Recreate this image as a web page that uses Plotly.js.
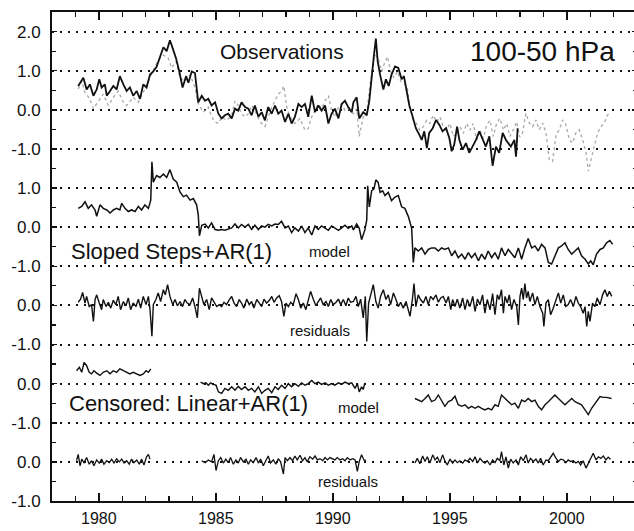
<!DOCTYPE html>
<html><head><meta charset="utf-8">
<script src="https://cdn.plot.ly/plotly-3.0.1.min.js"></script>
<style>html,body{margin:0;padding:0;overflow:hidden;background:#fff}#chart{width:640px;height:531px}</style>
</head><body><div id="chart"></div>
<script>
// ---------- data (anomalies, K) ----------
const obsYears = [1979.12,1979.34,1979.48,1979.62,1979.77,1979.91,1980.02,1980.12,1980.26,1980.34,1980.48,1980.62,1980.76,1980.90,1981.05,1981.19,1981.33,1981.47,1981.62,1981.76,1981.90,1982.04,1982.19,1982.33,1982.47,1982.61,1982.76,1982.90,1983.04,1983.16,1983.30,1983.44,1983.58,1983.73,1983.83,1983.97,1984.11,1984.25,1984.40,1984.54,1984.68,1984.82,1984.97,1985.11,1985.25,1985.39,1985.53,1985.68,1985.82,1985.96,1986.10,1986.25,1986.39,1986.53,1986.67,1986.82,1986.96,1987.10,1987.24,1987.39,1987.53,1987.67,1987.81,1987.96,1988.10,1988.24,1988.38,1988.53,1988.67,1988.81,1988.95,1989.10,1989.24,1989.38,1989.52,1989.67,1989.81,1989.95,1990.09,1990.24,1990.38,1990.52,1990.66,1990.81,1990.88,1991.02,1991.13,1991.30,1991.45,1991.56,1991.66,1991.76,1991.84,1991.92,1992.02,1992.16,1992.27,1992.39,1992.51,1992.66,1992.80,1992.94,1993.04,1993.15,1993.27,1993.41,1993.55,1993.70,1993.80,1993.91,1994.02,1994.12,1994.27,1994.41,1994.55,1994.69,1994.84,1994.98,1995.08,1995.19,1995.31,1995.41,1995.55,1995.69,1995.83,1995.97,1996.12,1996.26,1996.40,1996.54,1996.69,1996.83,1996.97,1997.11,1997.26,1997.40,1997.61,1997.76,1997.83,1997.90];
const obsValues = [0.61,0.82,0.52,0.65,0.36,0.52,0.78,0.57,0.65,0.36,0.48,0.61,0.52,0.86,0.65,0.48,0.57,0.36,0.48,0.28,0.65,0.57,0.90,0.98,1.10,1.36,1.60,1.50,1.78,1.57,1.32,0.98,0.57,0.86,0.69,0.98,0.94,0.19,0.36,0.23,0.28,0.11,0.19,-0.10,-0.22,-0.14,-0.10,-0.22,0.03,-0.02,0.19,0.07,0.03,-0.14,0.11,-0.18,-0.06,-0.27,0.07,-0.10,0.11,-0.10,-0.02,-0.31,-0.10,-0.35,-0.18,0.15,0.07,0.15,-0.18,0.36,-0.06,0.11,-0.02,0.11,-0.35,-0.10,0.03,-0.22,0.15,0.23,0.07,-0.06,0.19,0.32,-0.22,-0.06,-0.14,0.23,0.90,1.40,1.82,1.23,0.90,0.52,0.78,0.61,0.90,1.11,1.07,0.78,0.86,0.48,0.11,-0.17,-0.47,-0.64,-0.77,-0.55,-0.98,-0.59,-0.47,-0.26,-0.38,-0.55,-0.47,-0.72,-1.06,-0.89,-0.43,-0.77,-1.02,-0.85,-1.10,-0.94,-0.77,-0.55,-0.77,-0.94,-0.68,-1.43,-0.94,-1.10,-0.59,-0.77,-0.94,-0.77,-1.20,-0.47];

const obsAltYears = [1979.12,1979.27,1979.41,1979.59,1979.77,1979.98,1980.19,1980.41,1980.62,1980.83,1981.05,1981.19,1981.47,1981.69,1981.90,1982.12,1982.33,1982.54,1982.76,1982.97,1983.11,1983.30,1983.47,1983.68,1983.90,1984.11,1984.25,1984.47,1984.68,1984.82,1984.97,1985.11,1985.25,1985.46,1985.68,1985.82,1985.96,1986.10,1986.25,1986.39,1986.53,1986.67,1986.82,1986.96,1987.10,1987.24,1987.39,1987.53,1987.67,1987.81,1987.91,1988.03,1988.17,1988.38,1988.60,1988.81,1988.95,1989.10,1989.24,1989.38,1989.52,1989.67,1989.81,1989.95,1990.09,1990.24,1990.38,1990.52,1990.66,1990.88,1991.02,1991.13,1991.30,1991.45,1991.59,1991.70,1991.80,1991.94,1992.09,1992.23,1992.34,1992.47,1992.61,1992.76,1992.90,1993.04,1993.18,1993.30,1993.44,1993.58,1993.72,1993.87,1994.01,1994.15,1994.29,1994.44,1994.58,1994.72,1994.86,1995.01,1995.15,1995.29,1995.43,1995.58,1995.72,1995.86,1996.00,1996.15,1996.29,1996.43,1996.57,1996.72,1996.86,1997.00,1997.14,1997.29,1997.43,1997.57,1997.71,1997.86,1997.99,1998.11,1998.25,1998.40,1998.54,1998.68,1998.82,1998.97,1999.11,1999.25,1999.39,1999.54,1999.68,1999.82,1999.96,2000.11,2000.25,2000.39,2000.53,2000.68,2000.82,2000.92,2001.03,2001.17,2001.32,2001.46,2001.60,2001.74,2001.89];
const obsAltValues = [0.53,0.73,0.44,0.30,0.03,0.23,0.40,0.11,0.32,0.48,0.19,0.11,0.32,0.19,0.44,0.73,1.02,1.27,1.40,1.32,1.07,1.23,0.82,0.73,0.90,0.57,0.15,-0.06,0.07,-0.18,-0.31,-0.35,-0.18,-0.27,-0.14,0.23,0.11,-0.10,-0.18,-0.10,0.11,-0.02,-0.22,-0.35,-0.43,-0.18,0.07,0.23,0.40,0.48,0.61,0.07,-0.18,-0.35,-0.22,-0.52,-0.48,-0.18,-0.02,0.15,0.03,0.23,0.36,-0.02,-0.18,0.07,0.15,-0.02,0.03,-0.10,0.03,-0.68,-0.18,-0.10,0.65,1.15,1.40,1.32,0.98,1.23,1.36,0.98,0.82,0.98,0.73,0.69,0.57,0.07,-0.27,-0.35,-0.52,-0.43,-0.27,-0.35,-0.14,-0.31,-0.18,-0.43,-0.52,-0.35,-0.68,-0.60,-0.43,-0.60,-0.35,-0.52,-0.35,-0.77,-0.52,-0.73,-0.39,-0.27,-0.68,-0.35,-0.22,-0.52,-0.35,-0.68,-0.52,-0.31,-0.70,-0.59,-0.09,-0.34,-0.43,-0.26,-0.51,-0.34,-0.59,-1.28,-1.32,-0.64,-0.51,-0.26,-0.38,-0.77,-0.85,-0.59,-0.51,-0.77,-1.10,-1.57,-1.28,-0.94,-0.59,-0.43,-0.34,-0.13,-0.09];

const stepModelYears = [1979.12,1979.27,1979.41,1979.55,1979.69,1979.84,1979.91,1980.05,1980.19,1980.34,1980.48,1980.62,1980.76,1980.90,1980.98,1981.12,1981.26,1981.40,1981.55,1981.69,1981.83,1981.97,1982.12,1982.22,1982.27,1982.33,1982.47,1982.61,1982.76,1982.90,1983.04,1983.18,1983.33,1983.47,1983.61,1983.75,1983.90,1984.04,1984.18,1984.25,1984.30,1984.40,1984.54,1984.68,1984.82,1984.97,1985.11,1985.25,1985.39,1985.53,1985.68,1985.82,1985.96,1986.10,1986.25,1986.39,1986.53,1986.67,1986.82,1986.96,1987.10,1987.24,1987.39,1987.53,1987.67,1987.81,1987.96,1988.10,1988.24,1988.38,1988.53,1988.67,1988.81,1988.95,1989.10,1989.24,1989.38,1989.52,1989.67,1989.81,1989.95,1990.09,1990.24,1990.38,1990.52,1990.66,1990.81,1990.88,1991.02,1991.13,1991.23,1991.37,1991.45,1991.49,1991.56,1991.66,1991.76,1991.84,1991.94,1992.02,1992.13,1992.23,1992.37,1992.51,1992.66,1992.80,1992.94,1993.08,1993.23,1993.37,1993.44,1993.51,1993.65,1993.80,1993.94,1994.08,1994.22,1994.37,1994.51,1994.65,1994.79,1994.94,1995.08,1995.22,1995.36,1995.51,1995.65,1995.79,1995.93,1996.08,1996.22,1996.36,1996.50,1996.64,1996.79,1996.93,1997.07,1997.21,1997.36,1997.50,1997.64,1997.78,1997.93,1998.07,1998.21,1998.35,1998.50,1998.64,1998.78,1998.92,1999.07,1999.21,1999.35,1999.49,1999.64,1999.78,1999.92,2000.06,2000.21,2000.35,2000.49,2000.63,2000.78,2000.92,2001.02,2001.13,2001.27,2001.42,2001.56,2001.70,2001.84,2001.96];
const stepModelValues = [0.48,0.53,0.65,0.48,0.57,0.44,0.28,0.57,0.48,0.44,0.36,0.44,0.48,0.44,0.61,0.48,0.40,0.44,0.40,0.53,0.44,0.57,0.48,0.69,1.67,1.15,1.32,1.27,1.36,1.27,1.47,1.23,1.15,0.90,0.78,0.82,0.69,0.73,0.57,0.32,-0.22,0.05,0.08,-0.02,0.11,-0.06,-0.08,-0.06,-0.08,-0.06,-0.02,0.08,-0.02,0.07,0.00,0.07,-0.06,0.05,-0.06,0.03,0.00,0.07,0.03,0.08,0.07,0.15,-0.02,0.03,-0.14,-0.02,-0.10,0.03,-0.14,-0.02,-0.20,0.03,-0.06,0.03,-0.02,-0.08,0.03,-0.02,-0.08,-0.02,0.05,-0.03,0.03,-0.07,0.08,-0.03,-0.32,-0.07,0.18,1.06,0.52,0.93,0.98,1.21,1.14,0.89,0.93,0.81,0.89,0.68,0.77,0.81,0.52,0.48,0.27,-0.03,-0.90,-0.53,-0.61,-0.53,-0.69,-0.57,-0.53,-0.53,-0.61,-0.53,-0.57,-0.53,-0.73,-0.61,-0.78,-0.69,-0.82,-0.65,-0.78,-0.67,-0.86,-0.69,-0.82,-0.61,-0.78,-0.65,-0.82,-0.53,-0.73,-0.57,-0.69,-0.78,-0.53,-0.82,-0.53,-0.29,-0.53,-0.48,-0.61,-0.44,-0.53,-0.90,-0.94,-0.73,-0.53,-0.48,-0.40,-0.57,-0.69,-0.61,-0.53,-0.73,-0.82,-0.94,-0.86,-0.96,-0.69,-0.57,-0.53,-0.40,-0.34,-0.44];

const stepResidYears = [1979.12,1979.22,1979.31,1979.41,1979.48,1979.59,1979.69,1979.77,1979.84,1979.91,1980.02,1980.12,1980.19,1980.31,1980.41,1980.51,1980.62,1980.73,1980.83,1980.93,1981.05,1981.16,1981.26,1981.36,1981.47,1981.59,1981.69,1981.79,1981.90,1982.02,1982.12,1982.19,1982.27,1982.33,1982.44,1982.54,1982.64,1982.76,1982.84,1982.94,1983.04,1983.16,1983.26,1983.36,1983.47,1983.58,1983.68,1983.78,1983.90,1984.01,1984.11,1984.21,1984.30,1984.40,1984.49,1984.61,1984.72,1984.82,1984.92,1985.04,1985.15,1985.25,1985.35,1985.46,1985.58,1985.68,1985.78,1985.89,1986.00,1986.10,1986.20,1986.32,1986.43,1986.53,1986.63,1986.75,1986.86,1986.96,1987.06,1987.17,1987.29,1987.39,1987.49,1987.60,1987.71,1987.81,1987.91,1988.00,1988.10,1988.20,1988.31,1988.43,1988.53,1988.63,1988.74,1988.85,1988.95,1989.05,1989.17,1989.28,1989.38,1989.48,1989.59,1989.71,1989.81,1989.91,1990.02,1990.14,1990.24,1990.34,1990.45,1990.56,1990.66,1990.76,1990.88,1990.99,1991.09,1991.19,1991.30,1991.39,1991.45,1991.53,1991.62,1991.73,1991.84,1991.94,1992.04,1992.16,1992.27,1992.37,1992.47,1992.59,1992.70,1992.80,1992.90,1993.01,1993.13,1993.23,1993.30,1993.40,1993.47,1993.55,1993.65,1993.75,1993.87,1993.98,1994.08,1994.18,1994.29,1994.41,1994.51,1994.61,1994.72,1994.84,1994.94,1995.04,1995.12,1995.22,1995.32,1995.43,1995.55,1995.65,1995.75,1995.86,1995.98,1996.08,1996.18,1996.29,1996.40,1996.50,1996.60,1996.72,1996.83,1996.93,1997.03,1997.11,1997.21,1997.29,1997.36,1997.46,1997.54,1997.64,1997.74,1997.86,1997.93,1998.00,1998.07,1998.14,1998.21,1998.28,1998.35,1998.42,1998.54,1998.64,1998.74,1998.85,1998.97,1999.02,1999.11,1999.21,1999.31,1999.42,1999.54,1999.64,1999.74,1999.85,1999.96,2000.06,2000.16,2000.28,2000.39,2000.49,2000.59,2000.70,2000.78,2000.85,2000.92,2000.99,2001.10,2001.20,2001.30,2001.42,2001.53,2001.63,2001.73,2001.82,2001.92];
const stepResidValues = [0.08,0.16,0.33,0.06,0.23,-0.03,0.02,-0.41,0.15,0.27,0.06,-0.11,0.15,-0.03,0.08,-0.07,0.13,0.02,0.23,-0.11,0.10,-0.01,0.19,-0.11,0.06,-0.03,0.16,-0.07,0.23,0.02,0.23,-0.11,-0.79,0.02,0.15,0.32,0.10,0.40,0.27,0.53,0.23,0.02,0.15,-0.01,0.10,-0.03,0.15,0.06,0.02,0.19,-0.03,-0.32,0.44,0.19,0.02,0.15,-0.11,0.19,0.10,-0.03,0.02,-0.03,0.08,0.02,0.15,0.23,0.06,-0.03,0.15,0.06,-0.07,0.16,0.02,0.10,-0.07,0.15,0.06,-0.03,0.16,0.06,0.13,0.23,0.08,0.19,0.25,0.10,-0.28,0.06,-0.03,0.08,0.02,0.30,0.15,-0.07,0.06,-0.11,0.13,0.36,0.15,-0.01,0.10,0.19,0.02,0.10,-0.03,0.15,0.02,0.08,0.16,0.02,0.15,-0.01,0.19,0.08,0.10,0.23,-0.03,0.16,-0.32,0.23,-0.92,0.06,0.27,0.53,0.10,-0.07,0.23,0.40,0.15,0.27,0.02,0.32,0.15,-0.03,0.08,-0.07,0.10,-0.11,-0.28,0.15,0.56,-0.03,0.27,0.15,0.06,0.23,0.02,0.23,0.15,0.27,0.08,0.19,0.23,0.06,0.23,-0.11,0.15,-0.03,0.16,-0.07,0.19,-0.11,0.15,-0.03,0.23,-0.15,0.16,0.02,0.27,-0.20,0.15,-0.11,0.30,-0.24,0.27,0.15,0.40,-0.20,0.23,0.06,0.27,-0.11,0.15,-0.03,-0.50,0.23,0.44,0.15,0.56,0.19,0.36,0.10,0.32,0.02,0.23,-0.03,-0.20,-0.54,0.06,0.15,-0.24,-0.07,0.15,0.32,0.06,0.27,-0.03,0.02,0.15,-0.03,0.23,0.06,-0.03,-0.20,-0.03,-0.54,-0.15,-0.41,0.06,-0.03,0.19,0.02,0.27,0.40,0.23,0.36,0.23];

// censored fit: three separate pieces, gaps marked with null
const censModelYears = [1979.05,1979.17,1979.27,1979.37,1979.48,1979.59,1979.69,1979.79,1979.91,1980.05,1980.19,1980.34,1980.48,1980.62,1980.76,1980.90,1981.05,1981.19,1981.33,1981.47,1981.62,1981.76,1981.90,1982.02,1982.12,1982.22,null,
 1984.35,1984.47,1984.58,1984.68,1984.78,1984.89,1985.01,1985.11,1985.25,1985.39,1985.53,1985.68,1985.82,1985.96,1986.10,1986.25,1986.39,1986.53,1986.67,1986.82,1986.96,1987.10,1987.24,1987.39,1987.53,1987.67,1987.81,1987.96,1988.10,1988.24,1988.38,1988.53,1988.67,1988.81,1988.95,1989.10,1989.24,1989.38,1989.52,1989.67,1989.81,1989.95,1990.09,1990.24,1990.38,1990.52,1990.66,1990.81,1990.95,1991.05,1991.13,1991.23,1991.30,1991.37,null,
 1993.51,1993.65,1993.80,1993.94,1994.08,1994.22,1994.37,1994.51,1994.65,1994.79,1994.94,1995.08,1995.22,1995.36,1995.51,1995.65,1995.79,1995.93,1996.08,1996.22,1996.36,1996.50,1996.64,1996.79,1996.93,1997.07,1997.21,1997.36,1997.50,1997.64,1997.78,1997.93,1998.07,1998.21,1998.35,1998.50,1998.64,1998.78,1998.92,1999.07,1999.21,1999.35,1999.49,1999.64,1999.78,1999.92,2000.06,2000.21,2000.35,2000.49,2000.63,2000.78,2000.92,2001.06,2001.20,2001.35,2001.42,2001.56,2001.70,2001.91];
const censModelValues = [0.33,0.42,0.29,0.54,0.46,0.29,0.25,0.33,0.27,0.21,0.29,0.33,0.25,0.33,0.29,0.38,0.33,0.29,0.25,0.29,0.25,0.21,0.25,0.33,0.29,0.38,null,
 0.04,0.00,0.02,-0.04,0.02,-0.02,-0.04,-0.21,-0.25,-0.12,-0.17,-0.08,-0.17,-0.07,-0.15,-0.08,-0.17,-0.12,-0.21,-0.08,-0.25,-0.17,-0.12,-0.23,-0.08,-0.15,-0.04,-0.12,0.00,-0.08,0.00,-0.07,0.02,-0.04,0.00,0.08,0.00,0.04,-0.02,0.02,-0.04,0.00,-0.04,0.02,-0.02,0.04,0.00,0.02,-0.12,0.00,-0.21,-0.08,-0.15,0.02,null,
 -0.38,-0.42,-0.46,-0.38,-0.29,-0.46,-0.42,-0.29,-0.42,-0.58,-0.46,-0.42,-0.32,-0.54,-0.58,-0.54,-0.63,-0.58,-0.63,-0.58,-0.63,-0.67,-0.63,-0.67,-0.54,-0.58,-0.29,-0.38,-0.46,-0.54,-0.50,-0.63,-0.42,-0.46,-0.38,-0.46,-0.42,-0.58,-0.67,-0.54,-0.46,-0.38,-0.29,-0.38,-0.46,-0.54,-0.46,-0.38,-0.46,-0.50,-0.54,-0.67,-0.79,-0.63,-0.50,-0.38,-0.33,-0.35,-0.35,-0.38];

const censResidYears = [1979.05,1979.12,1979.20,1979.27,1979.37,1979.48,1979.59,1979.69,1979.79,1979.91,1980.02,1980.12,1980.22,1980.34,1980.45,1980.55,1980.65,1980.76,1980.88,1980.98,1981.08,1981.19,1981.30,1981.40,1981.50,1981.62,1981.73,1981.83,1981.93,1982.04,1982.12,1982.19,null,
 1984.40,1984.54,1984.68,1984.82,1984.92,1985.01,1985.11,1985.21,1985.32,1985.43,1985.53,1985.63,1985.75,1985.86,1985.96,1986.06,1986.18,1986.29,1986.39,1986.49,1986.60,1986.72,1986.82,1986.92,1987.03,1987.14,1987.24,1987.34,1987.46,1987.57,1987.67,1987.77,1987.89,1987.96,1988.06,1988.17,1988.28,1988.38,1988.48,1988.60,1988.71,1988.81,1988.91,1989.02,1989.14,1989.24,1989.34,1989.45,1989.57,1989.67,1989.77,1989.88,1989.99,1990.09,1990.19,1990.31,1990.42,1990.52,1990.62,1990.74,1990.85,1990.95,1991.05,1991.13,1991.23,1991.33,1991.42,null,
 1993.51,1993.61,1993.72,1993.84,1993.94,1994.04,1994.15,1994.27,1994.37,1994.47,1994.58,1994.69,1994.79,1994.89,1995.01,1995.12,1995.22,1995.32,1995.43,1995.55,1995.65,1995.75,1995.86,1995.98,1996.08,1996.18,1996.29,1996.40,1996.50,1996.60,1996.72,1996.83,1996.93,1997.03,1997.14,1997.21,1997.31,1997.40,1997.50,1997.60,1997.71,1997.83,1997.93,1998.03,1998.14,1998.26,1998.35,1998.45,1998.57,1998.68,1998.78,1998.88,1998.99,1999.11,1999.21,1999.31,1999.42,1999.54,1999.64,1999.74,1999.85,1999.96,2000.06,2000.16,2000.28,2000.39,2000.49,2000.59,2000.70,2000.82,2000.92,2001.02,2001.13,2001.25,2001.35,2001.45,2001.56,2001.67,2001.77,2001.87];
const censResidValues = [0.03,0.19,-0.10,0.07,-0.02,0.11,-0.06,0.03,-0.10,0.05,-0.03,0.07,-0.06,0.03,-0.02,0.07,-0.03,0.08,0.00,0.07,-0.03,0.03,-0.06,0.07,-0.02,0.05,-0.06,0.07,-0.08,0.13,0.19,0.07,null,
 0.03,-0.02,0.05,0.00,0.19,-0.22,0.03,0.11,-0.03,0.07,-0.02,0.11,-0.06,0.05,-0.03,0.11,0.00,0.07,-0.06,0.05,-0.02,0.11,-0.03,0.07,-0.10,0.03,0.15,-0.03,0.05,-0.06,0.08,0.00,-0.31,0.11,0.03,0.11,0.03,0.15,0.05,0.17,0.03,0.11,0.00,0.13,0.07,0.15,0.05,0.08,0.03,0.11,0.05,0.11,0.08,0.05,0.11,0.05,0.08,0.03,0.11,0.05,0.08,0.05,-0.24,0.01,0.18,0.05,0.03,null,
 -0.03,0.09,-0.05,0.15,0.01,0.13,-0.03,0.18,0.05,0.12,-0.02,0.18,0.03,-0.08,0.07,-0.03,0.05,-0.02,0.03,-0.03,0.05,0.01,0.09,0.01,0.13,-0.03,0.09,0.01,-0.03,0.03,-0.08,0.05,-0.02,0.09,0.03,0.26,-0.08,0.13,-0.16,0.07,-0.03,0.05,-0.08,0.13,0.03,0.18,-0.03,0.09,0.01,0.07,-0.03,0.09,-0.08,0.05,0.03,0.13,0.22,0.09,0.01,0.07,0.05,-0.02,0.05,0.01,0.03,-0.03,0.01,-0.08,0.03,-0.16,-0.03,0.09,0.22,0.05,0.13,0.09,0.15,0.05,0.12,0.07];

const yTickLabels = ["-1.0","0.0","-1.0","0.0","-1.0","0.0","-1.0","0.0","1.0","-1.0","0.0","1.0","2.0"];
const xTickLabels = ["1980","1985","1990","1995","2000"];

// ---------- layout of the stacked panels (vertical offsets) ----------
const OFF = {obs:10, model:7, resid:5, cmodel:3, cresid:1};
const shift = (arr, o) => arr.map(v => v === null ? null : v + o);

const black = '#111';
const traces = [
  {x: obsAltYears, y: shift(obsAltValues, OFF.obs), mode:'lines', line:{color:'#a8a8a8', width:1.3, dash:'dot'}},
  {x: obsYears, y: shift(obsValues, OFF.obs), mode:'lines', line:{color:black, width:1.8}},
  {x: stepModelYears, y: shift(stepModelValues, OFF.model), mode:'lines', line:{color:black, width:1.5}},
  {x: stepResidYears, y: shift(stepResidValues, OFF.resid), mode:'lines', line:{color:black, width:1.4}},
  {x: censModelYears, y: shift(censModelValues, OFF.cmodel), mode:'lines', connectgaps:false, line:{color:black, width:1.4}},
  {x: censResidYears, y: shift(censResidValues, OFF.cresid), mode:'lines', connectgaps:false, line:{color:black, width:1.3}}
];

const FONT = 'Liberation Sans, Arial, sans-serif';
const ann = (x, y, text, size) => ({x, y, xref:'x', yref:'y', text, showarrow:false,
  font:{family:FONT, size, color:'#111'}, xanchor:'center', yanchor:'middle'});

const layout = {
  width: 640, height: 531,
  margin: {l:52, r:3, t:12, b:30},
  paper_bgcolor:'#fff', plot_bgcolor:'#fff',
  showlegend:false,
  font:{family:FONT, color:'#111'},
  xaxis: {
    range:[1978, 2003], tickvals:[1980,1985,1990,1995,2000], ticktext:xTickLabels,
    ticks:'inside', ticklen:8, tickwidth:1.5, tickcolor:'#111',
    minor:{dtick:1, tick0:1978, ticks:'inside', ticklen:5, tickwidth:1.2, tickcolor:'#111', showgrid:false},
    showline:true, linewidth:2, linecolor:'#111', mirror:'ticks',
    showgrid:false, zeroline:false, tickfont:{size:16, family:FONT, color:'#111'}, ticklabelstandoff:2
  },
  yaxis: {
    range:[0, 12.5], tickvals:[0,1,2,3,4,5,6,7,8,9,10,11,12], ticktext:yTickLabels,
    ticks:'inside', ticklen:5, tickwidth:1.5, tickcolor:'#111',
    minor:{dtick:0.5, tick0:0, ticks:'inside', ticklen:4, tickwidth:1.2, tickcolor:'#111', showgrid:false},
    showline:true, linewidth:2, linecolor:'#111', mirror:'ticks',
    showgrid:true, gridcolor:'#111', gridwidth:2, griddash:'2px,6px',
    zeroline:false, tickfont:{size:17, family:FONT, color:'#111'}, ticklabelstandoff:6
  },
  annotations: [
    ann(1987.83, 11.5, 'Observations', 21),
    ann(1998.95, 11.5, '100-50 hPa', 28),
    ann(1983.11, 6.37, 'Sloped Steps+AR(1)', 22),
    ann(1989.86, 6.39, 'model', 15),
    ann(1989.45, 4.35, 'residuals', 15),
    ann(1983.83, 2.48, 'Censored: Linear+AR(1)', 22),
    ann(1991.10, 2.38, 'model', 15),
    ann(1990.67, 0.51, 'residuals', 15)
  ]
};

Plotly.newPlot('chart', traces, layout, {displayModeBar:false, staticPlot:true});
</script></body></html>
